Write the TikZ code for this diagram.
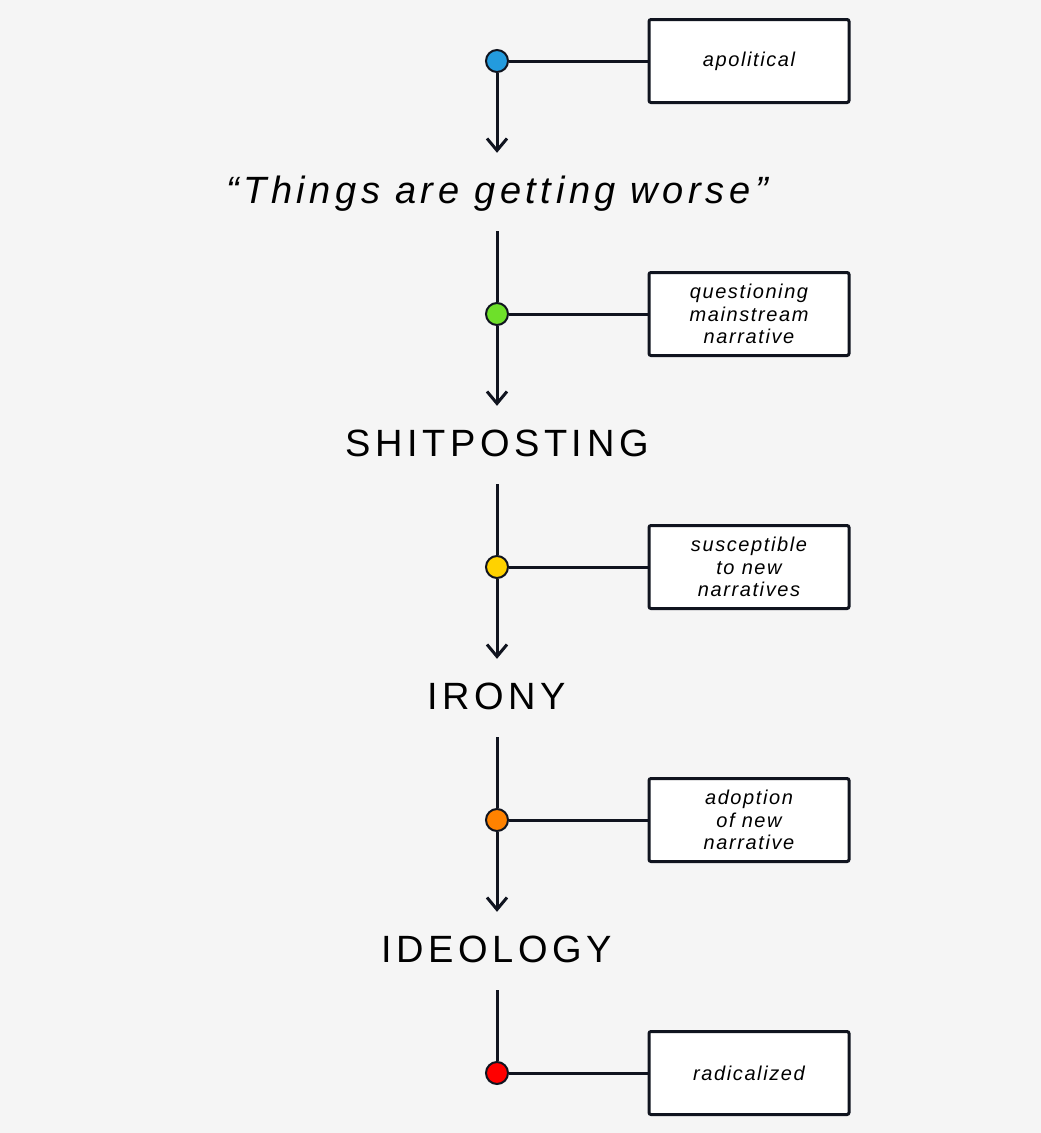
\documentclass[tikz,border=0pt]{standalone}
\usepackage{fontspec}
\setmainfont{Liberation Sans}
\newfontfamily\stagefont[LetterSpace=12]{Liberation Sans}
\newfontfamily\notefont[LetterSpace=8]{Liberation Sans}
\usetikzlibrary{arrows.meta}

\definecolor{paper}{HTML}{F5F5F5}
\definecolor{ink}{HTML}{10141F}
\definecolor{dotblue}{HTML}{239BDE}
\definecolor{dotgreen}{HTML}{6EE02A}
\definecolor{dotyellow}{HTML}{FFD200}
\definecolor{dotorange}{HTML}{FF8200}
\definecolor{dotred}{HTML}{FF0000}

\tikzset{
  dot/.style={circle, draw=ink, line width=2pt, minimum size=22pt, inner sep=0pt},
  note/.style={draw=ink, fill=white, line width=3pt, rounded corners=2pt,
    minimum width=200pt, minimum height=83pt, align=center,
    font=\notefont\itshape\fontsize{20}{22.5}\selectfont},
  stage/.style={anchor=base, text height=50pt, text depth=28pt, inner ysep=0pt,
    font=\stagefont\fontsize{38}{40}\selectfont},
  link/.style={draw=ink, line width=3pt},
  flow/.style={link, -{Straight Barb[length=12pt, width=20pt]}}
}

\begin{document}
\begin{tikzpicture}[x=1pt, y=-1pt]
  \fill[paper] (0,0) rectangle (1041,1133);

  \node[dot, fill=dotblue]   (apol) at (497,61) {};
  \node[dot, fill=dotgreen]  (ques) at (497,314) {};
  \node[dot, fill=dotyellow] (susc) at (497,567) {};
  \node[dot, fill=dotorange] (adop) at (497,820) {};
  \node[dot, fill=dotred]    (radi) at (497,1073) {};

  \node[note] (apolbox) at (749,61) {apolitical};
  \node[note] (quesbox) at (749,314) {questioning\\mainstream\\narrative};
  \node[note] (suscbox) at (749,567) {susceptible\\to new\\narratives};
  \node[note] (adopbox) at (749,820) {adoption\\of new\\narrative};
  \node[note] (radibox) at (749,1073) {radicalized};

  \node[stage] (worse) at (497,203) {\itshape “Things are getting worse”};
  \node[stage] (shit)  at (497,456) {SHITPOSTING};
  \node[stage] (irony) at (497,709) {IRONY};
  \node[stage] (ideo)  at (497,962) {IDEOLOGY};

  \draw[link] (apol) -- (apolbox);
  \draw[link] (ques) -- (quesbox);
  \draw[link] (susc) -- (suscbox);
  \draw[link] (adop) -- (adopbox);
  \draw[link] (radi) -- (radibox);

  \draw[flow] (apol) -- (worse);
  \draw[link] (worse) -- (ques);
  \draw[flow] (ques) -- (shit);
  \draw[link] (shit) -- (susc);
  \draw[flow] (susc) -- (irony);
  \draw[link] (irony) -- (adop);
  \draw[flow] (adop) -- (ideo);
  \draw[link] (ideo) -- (radi);
\end{tikzpicture}
\end{document}
